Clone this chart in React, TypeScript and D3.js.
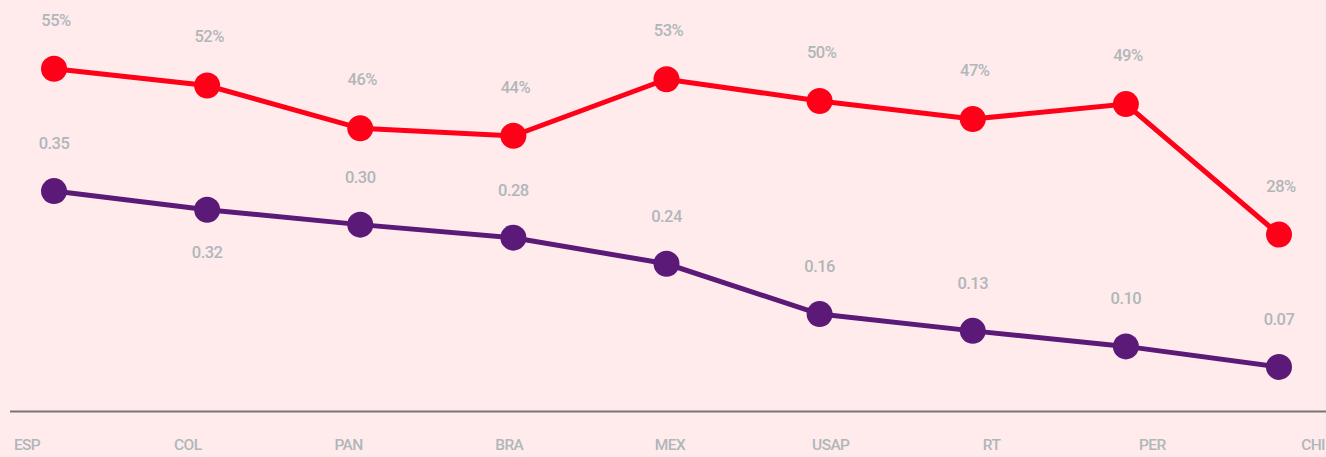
import React from "react";
import * as d3 from "d3";

const categories = ["ESP", "COL", "PAN", "BRA", "MEX", "USAP", "RT", "PER", "CHI"];
const redValues = [0.551, 0.524, 0.455, 0.443, 0.534, 0.499, 0.47, 0.494, 0.284];
const purpleValues = [0.354, 0.324, 0.3, 0.279, 0.237, 0.156, 0.129, 0.104, 0.071];
const purpleLabelBelow = [false, true, false, false, false, false, false, false, false];

const W = 1326;
const H = 457;
const FONT = "Roboto, 'Liberation Sans Narrow', sans-serif";
const TEXT = "#afb7b9";

export default function App() {
  const x = d3.scalePoint<string>().domain(categories).range([54, 1279]);
  const xLabel = d3.scalePoint<string>().domain(categories).range([27, 1313]);
  const y = d3.scaleLinear().domain([0, 0.66]).range([411, 1]);

  const line = d3
    .line<number>()
    .x((_, i) => x(categories[i]) as number)
    .y((d) => y(d));

  const pct = d3.format(".0%");
  const dec = d3.format(".2f");

  return (
    <svg
      width={W}
      height={H}
      style={{ position: "absolute", left: 0, top: 0, background: "#ffebec" }}
    >
      <rect x={0} y={0} width={W} height={H} fill="#ffebec" />
      <line x1={10} x2={W} y1={411.5} y2={411.5} stroke="#767676" strokeWidth={2} />
      {categories.map((c) => (
        <text
          key={c}
          x={xLabel(c)}
          y={450}
          textAnchor="middle"
          fontFamily={FONT}
          fontWeight={500}
          fontSize={15.5}
          letterSpacing={-0.6}
          fill={TEXT}
        >
          {c}
        </text>
      ))}
      <path d={line(purpleValues) || ""} fill="none" stroke="#5b1a78" strokeWidth={5} />
      <path d={line(redValues) || ""} fill="none" stroke="#ff0019" strokeWidth={5} />
      {purpleValues.map((v, i) => (
        <g key={"p" + i}>
          <circle cx={x(categories[i])} cy={y(v)} r={13} fill="#5b1a78" />
          <text
            x={x(categories[i])}
            y={purpleLabelBelow[i] ? y(v) + 48 : y(v) - 42}
            textAnchor="middle"
            fontFamily={FONT}
            fontWeight={500}
            fontSize={16.5}
            letterSpacing={-0.5}
            fill={TEXT}
          >
            {dec(v)}
          </text>
        </g>
      ))}
      {redValues.map((v, i) => (
        <g key={"r" + i}>
          <circle cx={x(categories[i])} cy={y(v)} r={13} fill="#ff0019" />
          <text
            x={(x(categories[i]) as number) + 2}
            y={y(v) - 43}
            textAnchor="middle"
            fontFamily={FONT}
            fontWeight={500}
            fontSize={16.5}
            letterSpacing={-0.5}
            fill={TEXT}
          >
            {pct(v)}
          </text>
        </g>
      ))}
    </svg>
  );
}
